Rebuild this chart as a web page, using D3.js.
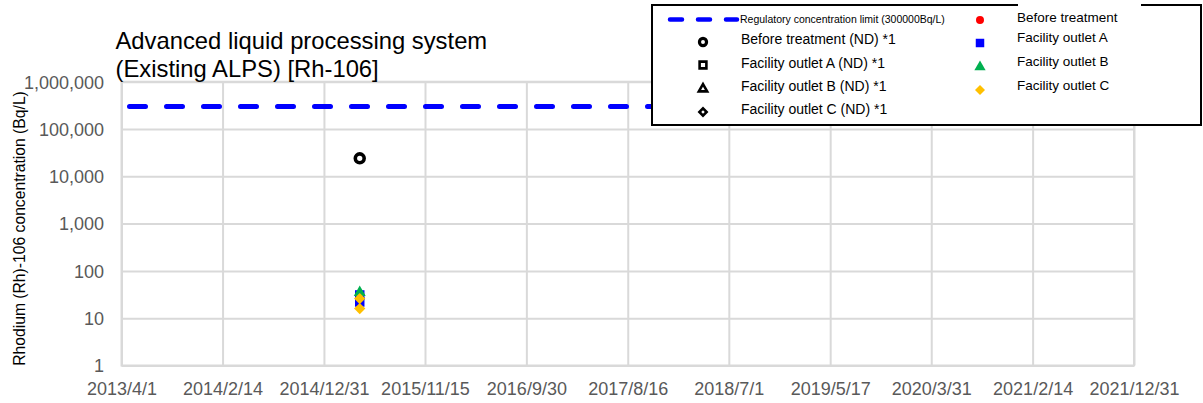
<!DOCTYPE html>
<html>
<head>
<meta charset="utf-8">
<script src="https://cdn.jsdelivr.net/npm/d3@7"></script>
<style>
  html, body { margin: 0; padding: 0; background: #fff; }
  svg { display: block; font-family: "Liberation Sans", Arial, sans-serif; }
</style>
</head>
<body>
<svg id="chart" width="1203" height="403"></svg>
<script>
// ---- data ----
const xTickLabels = ["2013/4/1", "2014/2/14", "2014/12/31", "2015/11/15", "2016/9/30",
  "2017/8/16", "2018/7/1", "2019/5/17", "2020/3/31", "2021/2/14", "2021/12/31"];
const yTickValues = [1, 10, 100, 1000, 10000, 100000, 1000000];

const limitDates = ["2013/4/1", "2021/12/31"];
const limitValue = 300000;

const beforeTreatmentDates = [];
const beforeTreatment = [];
const beforeTreatmentNDDates = ["2015/4/23"];
const beforeTreatmentND = [24000];
const outletADates = ["2015/4/23", "2015/4/23"];
const outletA = [31, 22];
const outletBDates = ["2015/4/23"];
const outletB = [35];
const outletCDates = ["2015/4/23", "2015/4/23"];
const outletC = [26, 16];

// ---- setup ----
const parse = d3.timeParse("%Y/%m/%d");
const svg = d3.select("#chart");

const plot = { left: 121.5, right: 1134, top: 81.7, bottom: 365.5 };

const x = d3.scaleTime()
  .domain([parse(xTickLabels[0]), parse(xTickLabels[xTickLabels.length - 1])])
  .range([plot.left, plot.right]);
const y = d3.scaleLog()
  .domain([1, 1000000])
  .range([plot.bottom, plot.top]);

const gridColor = "#d9d9d9";
const labelColor = "#595959";

// ---- gridlines ----
const xAxis = d3.axisBottom(x)
  .tickValues(xTickLabels.map(parse))
  .tickSize(-(plot.bottom - plot.top))
  .tickFormat((d, i) => xTickLabels[i]);
svg.append("g")
  .attr("transform", `translate(0,${plot.bottom})`)
  .call(xAxis)
  .call(g => g.select(".domain").remove())
  .call(g => g.selectAll(".tick line").attr("stroke", gridColor).attr("stroke-width", 2))
  .call(g => g.selectAll(".tick text")
    .attr("fill", labelColor).attr("font-size", 18)
    .attr("font-family", "Liberation Sans, Arial, sans-serif")
    .attr("y", 0).attr("dy", null)
    .attr("transform", "translate(0,29)"));

const yAxis = d3.axisLeft(y)
  .tickValues(yTickValues)
  .tickSize(-(plot.right - plot.left))
  .tickFormat(d3.format(","));
svg.append("g")
  .attr("transform", `translate(${plot.left},0)`)
  .call(yAxis)
  .call(g => g.select(".domain").remove())
  .call(g => g.selectAll(".tick line").attr("stroke", gridColor).attr("stroke-width", 2))
  .call(g => g.selectAll(".tick text")
    .attr("fill", labelColor).attr("font-size", 18)
    .attr("font-family", "Liberation Sans, Arial, sans-serif")
    .attr("x", -17.5).attr("dy", "0.35em"));

// plot area border
svg.append("rect")
  .attr("x", plot.left).attr("y", plot.top)
  .attr("width", plot.right - plot.left).attr("height", plot.bottom - plot.top)
  .attr("fill", "none").attr("stroke", gridColor).attr("stroke-width", 2);

// ---- regulatory limit ----
const limitLine = d3.line()
  .x(d => x(parse(d)))
  .y(() => y(limitValue));
svg.append("path")
  .datum(limitDates)
  .attr("d", limitLine)
  .attr("fill", "none")
  .attr("stroke", "#0000ff")
  .attr("stroke-width", 5)
  .attr("stroke-linecap", "round")
  .attr("stroke-dasharray", "16,21")
  .attr("stroke-dashoffset", 29);

// ---- markers ----
const sym = {
  square: d3.symbol().type(d3.symbolSquare).size(90),
  triangle: d3.symbol().type(d3.symbolTriangle).size(62),
  diamond: d3.symbol().type(d3.symbolSquare).size(64)
};

const series = [
  { dates: beforeTreatmentDates, values: beforeTreatment, shape: "circle", fill: "#ff0000", stroke: "none" },
  { dates: beforeTreatmentNDDates, values: beforeTreatmentND, shape: "circle", fill: "#fff", stroke: "#000" },
  { dates: outletADates, values: outletA, shape: "square", fill: "#0000ff", stroke: "none" },
  { dates: outletBDates, values: outletB, shape: "triangle", fill: "#00b050", stroke: "none" },
  { dates: outletCDates, values: outletC, shape: "diamond", fill: "#ffc000", stroke: "none" }
];

function drawMarker(sel, s) {
  const hollow = s.stroke !== "none";
  let d;
  if (s.shape === "circle") d = d3.symbol().type(d3.symbolCircle).size(hollow ? 62 : 64)();
  else d = sym[s.shape]();
  sel.append("path")
    .attr("d", d)
    .attr("transform", s.shape === "diamond" ? "rotate(45)" : null)
    .attr("fill", s.fill)
    .attr("stroke", s.stroke)
    .attr("stroke-width", hollow ? 3.6 : 0);
}

series.forEach(s => {
  s.values.forEach((v, i) => {
    const g = svg.append("g")
      .attr("transform", `translate(${x(parse(s.dates[i]))},${y(v)})`);
    drawMarker(g, s);
  });
});

// ---- title ----
const title = svg.append("text")
  .attr("font-size", 23.8).attr("fill", "#000");
title.append("tspan").attr("x", 115.5).attr("y", 48.5).text("Advanced liquid processing system");
title.append("tspan").attr("x", 115.5).attr("y", 77).text("(Existing ALPS) [Rh-106]");

// ---- y-axis label ----
svg.append("text")
  .attr("transform", "translate(24.5,228.5) rotate(-90)")
  .attr("text-anchor", "middle")
  .attr("font-size", 15.7)
  .attr("fill", "#000")
  .text("Rhodium (Rh)-106 concentration (Bq/L)");

// ---- legend ----
const legend = svg.append("g");
legend.append("rect")
  .attr("x", 652).attr("y", 5).attr("width", 549).attr("height", 120)
  .attr("fill", "#fff").attr("stroke", "#000").attr("stroke-width", 2);
legend.append("rect")
  .attr("x", 1018).attr("y", 3).attr("width", 123).attr("height", 10)
  .attr("fill", "#fff");

legend.append("line")
  .attr("x1", 670).attr("x2", 737).attr("y1", 19.5).attr("y2", 19.5)
  .attr("stroke", "#0000ff").attr("stroke-width", 4.5)
  .attr("stroke-linecap", "round").attr("stroke-dasharray", "12,16");
legend.append("text")
  .attr("x", 740).attr("y", 22.5)
  .attr("font-size", 10.5).attr("fill", "#000")
  .text("Regulatory concentration limit (300000Bq/L)");

const col1 = [
  { shape: "circle", label: "Before treatment (ND) *1", my: 42, ty: 44 },
  { shape: "square", label: "Facility outlet A (ND) *1", my: 65, ty: 67.5 },
  { shape: "triangle", label: "Facility outlet B (ND) *1", my: 89, ty: 91 },
  { shape: "diamond", label: "Facility outlet C (ND) *1", my: 112, ty: 114 }
];
const col2 = [
  { s: series[0], label: "Before treatment", my: 20, ty: 22 },
  { s: series[2], label: "Facility outlet A", my: 43, ty: 42 },
  { s: series[3], label: "Facility outlet B", my: 67, ty: 66 },
  { s: series[4], label: "Facility outlet C", my: 90, ty: 90 }
];

const legendHollow = {
  circle: d3.symbol().type(d3.symbolCircle).size(40),
  square: d3.symbol().type(d3.symbolSquare).size(46),
  triangle: d3.symbol().type(d3.symbolTriangle).size(30),
  diamond: d3.symbol().type(d3.symbolSquare).size(26)
};

col1.forEach(e => {
  legend.append("path")
    .attr("d", legendHollow[e.shape]())
    .attr("transform", `translate(703,${e.my})${e.shape === "diamond" ? " rotate(45)" : ""}`)
    .attr("fill", "#fff").attr("stroke", "#000").attr("stroke-width", e.shape === "circle" ? 3.2 : 2.6);
  legend.append("text")
    .attr("x", 741).attr("y", e.ty)
    .attr("font-size", 14).attr("fill", "#000")
    .text(e.label);
});

const legendFilled = {
  circle: d3.symbol().type(d3.symbolCircle).size(50),
  square: d3.symbol().type(d3.symbolSquare).size(72),
  triangle: d3.symbol().type(d3.symbolTriangle).size(55),
  diamond: d3.symbol().type(d3.symbolSquare).size(50)
};
col2.forEach(e => {
  legend.append("path")
    .attr("d", legendFilled[e.s.shape]())
    .attr("transform", `translate(980,${e.my})${e.s.shape === "diamond" ? " rotate(45)" : ""}`)
    .attr("fill", e.s.fill);
  legend.append("text")
    .attr("x", 1017).attr("y", e.ty)
    .attr("font-size", 13.5).attr("fill", "#000")
    .text(e.label);
});
</script>
</body>
</html>
